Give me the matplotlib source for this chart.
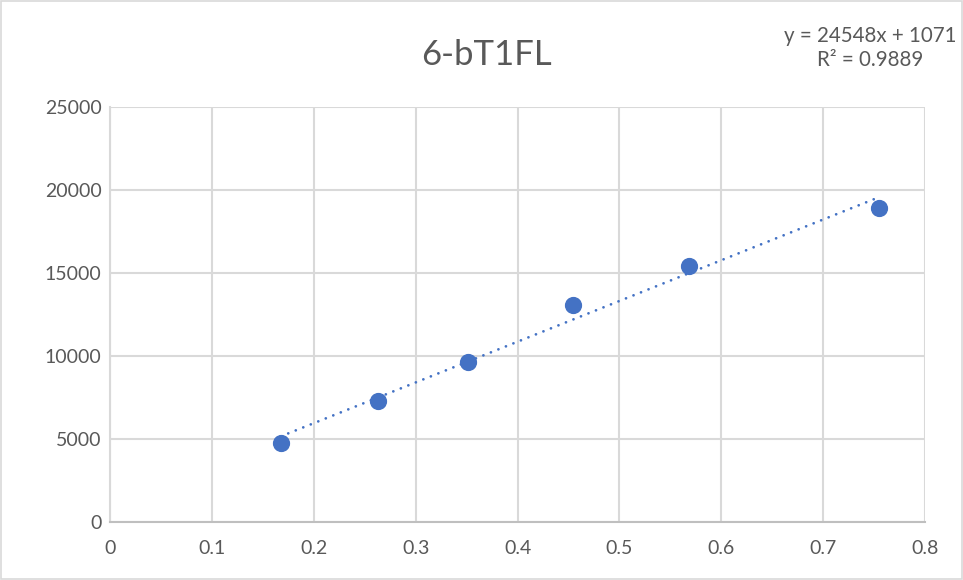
import numpy as np
import matplotlib.pyplot as plt
import matplotlib.patches as patches

# values
conc = [0.1676, 0.2634, 0.3514, 0.4548, 0.5680, 0.7552]
signal = [4777, 7289, 9639, 13072, 15422, 18898]
title = "6-bT1FL"
eq_label = "y = 24548x + 1071\nR² = 0.9889"
x_ticks = [0, 0.1, 0.2, 0.3, 0.4, 0.5, 0.6, 0.7, 0.8]
y_ticks = [0, 5000, 10000, 15000, 20000, 25000]

plt.rcParams["font.family"] = ["Lato", "DejaVu Sans"]

blue = "#4472C4"
text_gray = "#595959"
grid_gray = "#d9d9d9"

fig = plt.figure(figsize=(9.63, 5.8), dpi=100)
ax = fig.add_axes([110 / 963, 58 / 580, 815 / 963, 415 / 580])

# chart border
fig.add_artist(
    patches.Rectangle(
        (0.001, 0.001), 0.998, 0.998,
        transform=fig.transFigure, fill=False, edgecolor="#d9d9d9", linewidth=1.2,
    )
)

ax.set_xlim(0, 0.8)
ax.set_ylim(0, 25000)
ax.set_xticks(x_ticks)
ax.set_xticklabels([f"{t:g}" for t in x_ticks])
ax.set_yticks(y_ticks)
ax.grid(True, color=grid_gray, linewidth=1.5)
ax.set_axisbelow(True)

for side in ["top", "right"]:
    ax.spines[side].set_visible(False)
ax.spines["left"].set_color(grid_gray)
ax.spines["left"].set_linewidth(1.5)
ax.spines["bottom"].set_color("#bfbfbf")
ax.spines["bottom"].set_linewidth(1.5)

ax.tick_params(axis="both", length=0, labelsize=14, labelcolor=text_gray)
ax.tick_params(axis="x", pad=13)
ax.tick_params(axis="y", pad=6)

# linear trendline
slope, intercept = np.polyfit(conc, signal, 1)
xs = np.array([min(conc), max(conc)])
ax.plot(
    xs, slope * xs + intercept,
    color=blue, linewidth=2.0, linestyle=(0, (0.01, 2.9)),
    dash_capstyle="round", zorder=2,
)

ax.scatter(conc, signal, s=130, color=blue, edgecolors=blue, zorder=3)

fig.text(486 / 963, 1 - 55 / 580, title, ha="center", va="center",
         fontsize=25, color=text_gray)
fig.text(870 / 963, 1 - 48 / 580, eq_label, ha="center", va="center",
         fontsize=14.8, color=text_gray, linespacing=1.25)

fig.savefig("out.png", dpi=100)
